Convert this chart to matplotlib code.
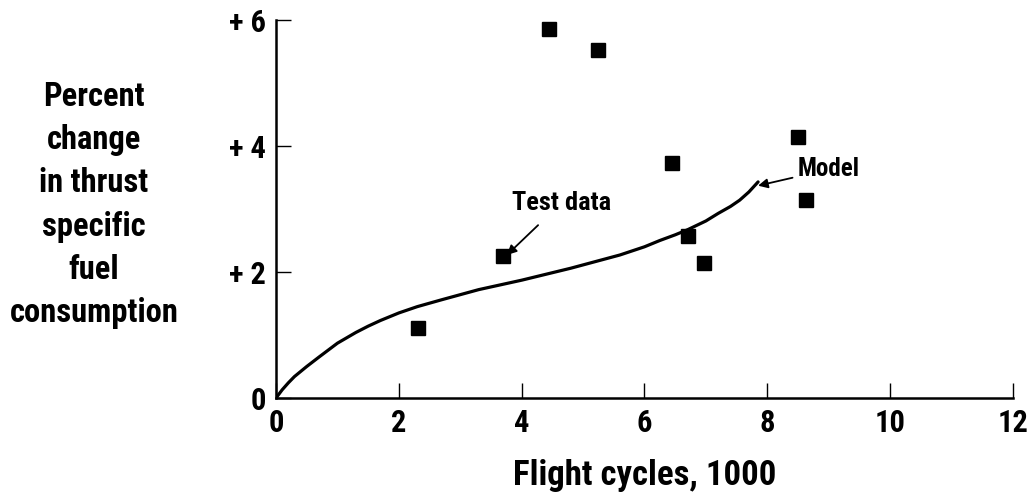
import matplotlib
matplotlib.use("Agg")
import matplotlib.pyplot as plt

plt.rcParams["font.family"] = ["Liberation Sans Narrow", "Roboto Condensed",
                               "Liberation Sans", "DejaVu Sans"]
plt.rcParams["font.weight"] = "bold"

# test data points (flight cycles in 1000s, % change in TSFC)
test_x = [2.31, 3.70, 4.45, 5.24, 6.45, 6.71, 6.97, 8.50, 8.63]
test_y = [1.11, 2.25, 5.86, 5.52, 3.73, 2.57, 2.14, 4.14, 3.14]

# model curve
model_x = [0.0, 0.1, 0.2, 0.3, 0.5, 0.7, 1.0, 1.3, 1.5, 1.7, 2.0, 2.3, 2.7, 3.3, 4.0,
           4.8, 5.6, 6.0, 6.25, 6.5, 6.7, 7.0, 7.2, 7.4, 7.55, 7.7, 7.85]
model_y = [0.0, 0.13, 0.24, 0.34, 0.50, 0.65, 0.87, 1.04, 1.14, 1.23, 1.35, 1.45, 1.56,
           1.72, 1.87, 2.06, 2.27, 2.40, 2.50, 2.59, 2.67, 2.81, 2.93, 3.04, 3.14, 3.27, 3.43]

xticks = [0, 2, 4, 6, 8, 10, 12]
yticks = [0, 2, 4, 6]
ytick_labels = ["0", "+ 2", "+ 4", "+ 6"]

fig = plt.figure(figsize=(10.33, 4.97), dpi=100)
ax = fig.add_axes([0.2672, 0.1992, 0.7134, 0.7606])

ax.plot(model_x, model_y, color="black", lw=2.3, solid_capstyle="round",
        solid_joinstyle="round")
ax.plot(test_x, test_y, ls="none", marker="s", ms=9.5, color="black")

ax.set_xlim(0, 12)
ax.set_ylim(0, 6)
ax.set_xticks(xticks)
ax.set_yticks(yticks)
ax.set_yticklabels(ytick_labels)
ax.tick_params(direction="in", length=11, width=1.0, pad=7, labelsize=22)

for side in ["top", "right"]:
    ax.spines[side].set_visible(False)
for side in ["left", "bottom"]:
    ax.spines[side].set_linewidth(1.8)

ax.set_xlabel("Flight cycles, 1000", fontsize=25, fontweight="bold", labelpad=15)
fig.text(0.091, 0.5875, "Percent\nchange\nin thrust\nspecific\nfuel\nconsumption",
         ha="center", va="center", fontsize=23.5, fontweight="bold", linespacing=1.45)

ax.annotate("Test data", xy=(3.76, 2.27), xytext=(4.65, 3.1),
            ha="center", va="center", fontsize=19, fontweight="bold",
            arrowprops=dict(arrowstyle="-|>", color="black", lw=1.3, shrinkA=8, shrinkB=0,
                            mutation_scale=14))
ax.annotate("Model", xy=(7.85, 3.37), xytext=(8.5, 3.63),
            ha="left", va="center", fontsize=18, fontweight="bold",
            arrowprops=dict(arrowstyle="-|>", color="black", lw=1.3, shrinkA=2, shrinkB=0,
                            mutation_scale=14))

fig.savefig("out.png", dpi=100)
